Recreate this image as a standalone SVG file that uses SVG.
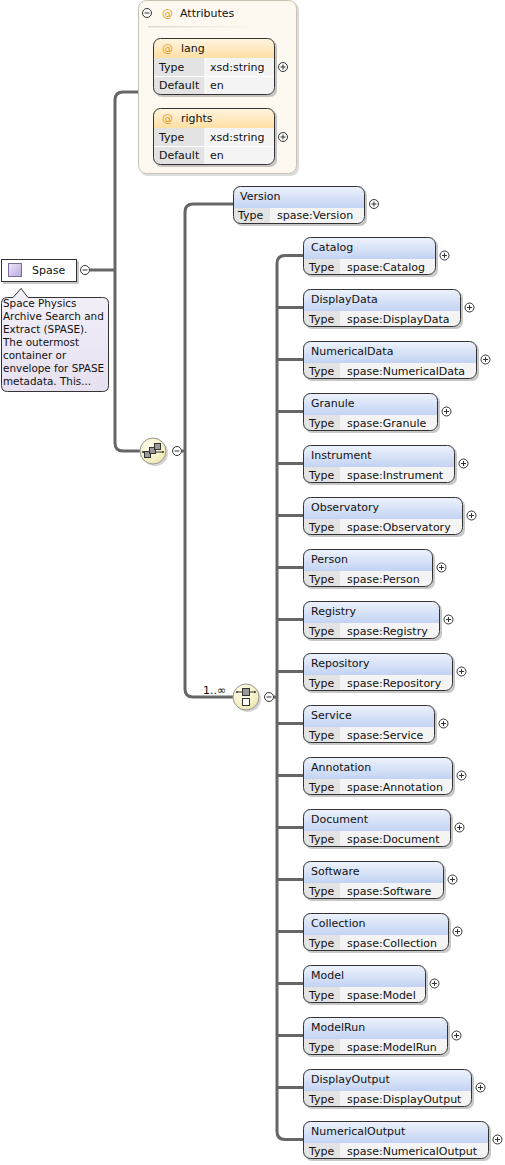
<svg xmlns="http://www.w3.org/2000/svg" width="505" height="1165" viewBox="0 0 505 1165">
<style>
text{font-family:"DejaVu Sans","Liberation Sans",sans-serif;font-size:11px;fill:#111}
.note{font-size:10.4px}
.ln{fill:none;stroke:#666;stroke-width:3}
.bd{fill:none;stroke:#333;stroke-width:1}
.sh{fill:#999;opacity:.55}
.hdr{fill:url(#gHdr)}
.ahdr{fill:url(#gAttr)}
.lab{fill:#e3e3e3}
.val{fill:#f4f4f4}
.ic{fill:#fff;stroke:#333;stroke-width:1}
.icl{stroke:#333;stroke-width:1}
.at{fill:#e69a1e}
</style>
<defs>
<linearGradient id="gHdr" x1="0" y1="0" x2="0" y2="1"><stop offset="0" stop-color="#eef3fc"/><stop offset="1" stop-color="#c3d3f3"/></linearGradient>
<linearGradient id="gAttr" x1="0" y1="0" x2="0" y2="1"><stop offset="0" stop-color="#fff5e2"/><stop offset="1" stop-color="#ffdfa4"/></linearGradient>
<linearGradient id="gSep" x1="0" y1="0" x2="1" y2="0"><stop offset="0" stop-color="#ddd8cc"/><stop offset="1" stop-color="#ddd8cc" stop-opacity="0"/></linearGradient>
<linearGradient id="gIcon" x1="0" y1="0" x2="1" y2="1"><stop offset="0" stop-color="#eee8f8"/><stop offset="1" stop-color="#b8a8e0"/></linearGradient>
<linearGradient id="gNote" x1="0" y1="0" x2="0" y2="1"><stop offset="0" stop-color="#f3f0f8"/><stop offset="1" stop-color="#e6e0f0"/></linearGradient>
<radialGradient id="gComp" cx="0.4" cy="0.35" r="0.7"><stop offset="0" stop-color="#fffef0"/><stop offset="1" stop-color="#efe8b0"/></radialGradient>
<g id="plus"><circle class="ic" cx="0" cy="0" r="4.5"/><path class="icl" d="M-2.5,0H2.5M0,-2.5V2.5"/></g>
<g id="minus"><circle class="ic" cx="0" cy="0" r="4.5"/><path class="icl" d="M-2.5,0H2.5"/></g>
</defs>

<g id="connectors">
<path class="ln" d="M90,270H115"/>
<path class="ln" d="M138,92H123Q115,92 115,100V443Q115,451 123,451H140"/>
<path class="ln" d="M182,451H185"/>
<path class="ln" d="M233,204H193Q185,204 185,212V689Q185,697 193,697H233"/>
<path class="ln" d="M274,697H277"/>
<path class="ln" d="M303,255.5H285Q277,255.5 277,263.5V1131.5Q277,1139.5 285,1139.5H303"/>
<path class="ln" d="M277,307.5H303M277,359.5H303M277,411.5H303M277,463.5H303M277,515.5H303M277,567.5H303M277,619.5H303M277,671.5H303M277,723.5H303M277,775.5H303M277,827.5H303M277,879.5H303M277,931.5H303M277,983.5H303M277,1035.5H303M277,1087.5H303"/>
</g>

<g id="spase">
<rect class="sh" x="3" y="261" width="76" height="23"/>
<rect x="1.5" y="259.5" width="75" height="22" fill="#fff" stroke="#333"/>
<rect x="8.5" y="263.5" width="13" height="13" fill="url(#gIcon)" stroke="#7a6aa0"/>
<text x="32" y="274">Spase</text>
<use href="#minus" x="85" y="270"/>
</g>

<g id="spase-doc">
<path d="M7.5,297.5H13L21,288.5L28,297.5H102.5Q108.5,297.5 108.5,303.5V385.5Q108.5,391.5 102.5,391.5H7.5Q1.5,391.5 1.5,385.5V303.5Q1.5,297.5 7.5,297.5Z" fill="url(#gNote)" stroke="#333"/>
<text class="note" x="3" y="307">Space Physics</text>
<text class="note" x="3" y="320">Archive Search and</text>
<text class="note" x="3" y="333">Extract (SPASE).</text>
<text class="note" x="3" y="346">The outermost</text>
<text class="note" x="3" y="359">container or</text>
<text class="note" x="3" y="372">envelope for SPASE</text>
<text class="note" x="3" y="385">metadata. This...</text>
</g>

<g id="attributes">
<rect x="140" y="2" width="159" height="174" rx="8" fill="#bbb" opacity=".5"/>
<rect x="138.5" y="0.5" width="158" height="173" rx="8" fill="#fdf9f0" stroke="#c9c1b1"/>
<use href="#minus" x="147" y="13"/>
<text x="162" y="17" class="at">@</text>
<text x="180" y="17">Attributes</text>
<rect x="148" y="26" width="110" height="1.5" fill="url(#gSep)"/>
</g>

<g id="attr-lang">
<rect class="sh" x="155" y="40" width="122" height="57" rx="7"/>
<rect x="153" y="38" width="122" height="57" rx="7" class="val"/>
<path class="ahdr" d="M153,58V45Q153,38 160,38H268Q275,38 275,45V58Z"/>
<path class="lab" d="M153,58H205V95H160Q153,95 153,88Z"/>
<path d="M153,76.5H275M205,58V95" stroke="#fff" stroke-width="1"/>
<rect x="153.5" y="38.5" width="121" height="56" rx="7" class="bd"/>
<text x="162" y="52" class="at">@</text>
<text x="181" y="52">lang</text>
<text x="159" y="71">Type</text>
<text x="210" y="71">xsd:string</text>
<text x="159" y="89">Default</text>
<text x="210" y="89">en</text>
<use href="#plus" x="283" y="67"/>
</g>

<g id="attr-rights">
<rect class="sh" x="155" y="110" width="122" height="57" rx="7"/>
<rect x="153" y="108" width="122" height="57" rx="7" class="val"/>
<path class="ahdr" d="M153,128V115Q153,108 160,108H268Q275,108 275,115V128Z"/>
<path class="lab" d="M153,128H205V165H160Q153,165 153,158Z"/>
<path d="M153,146.5H275M205,128V165" stroke="#fff" stroke-width="1"/>
<rect x="153.5" y="108.5" width="121" height="56" rx="7" class="bd"/>
<text x="162" y="122" class="at">@</text>
<text x="181" y="122">rights</text>
<text x="159" y="141">Type</text>
<text x="210" y="141">xsd:string</text>
<text x="159" y="159">Default</text>
<text x="210" y="159">en</text>
<use href="#plus" x="283" y="137"/>
</g>

<g id="sequence">
<circle cx="155" cy="453" r="13" fill="#aaa" opacity=".5"/>
<circle cx="153" cy="451" r="13" fill="url(#gComp)" stroke="#999"/>
<path d="M143,452H163" stroke="#333"/>
<circle cx="143" cy="452" r="1" fill="#333"/>
<circle cx="163" cy="452" r="1" fill="#333"/>
<rect x="144.5" y="451.5" width="6" height="6" fill="#999" stroke="#333"/>
<rect x="149.5" y="447.5" width="6" height="6" fill="#999" stroke="#333"/>
<rect x="154.5" y="443.5" width="6" height="6" fill="#999" stroke="#333"/>
<use href="#minus" x="177" y="451"/>
</g>

<g id="el-Version">
<rect class="sh" x="235" y="188" width="132" height="38" rx="7"/>
<rect x="233" y="186" width="132" height="38" rx="7" class="val"/>
<path class="hdr" d="M233,208V193Q233,186 240,186H358Q365,186 365,193V208Z"/>
<path class="lab" d="M233,208H270V224H240Q233,224 233,217Z"/>
<rect x="233.5" y="186.5" width="131" height="37" rx="7" class="bd"/>
<text x="240" y="200">Version</text>
<text x="238" y="219">Type</text>
<text x="277" y="219">spase:Version</text>
<use href="#plus" x="374" y="204"/>
</g>

<g id="choice">
<text x="203" y="694">1..∞</text>
<circle cx="248" cy="699" r="13" fill="#aaa" opacity=".5"/>
<circle cx="246" cy="697" r="13" fill="url(#gComp)" stroke="#999"/>
<path d="M237,692H255" stroke="#333"/>
<circle cx="237" cy="692" r="1" fill="#333"/>
<circle cx="255" cy="692" r="1" fill="#333"/>
<rect x="242.5" y="688.5" width="7" height="7" fill="#999" stroke="#333"/>
<rect x="242.5" y="698.5" width="7" height="7" fill="#fff" stroke="#333"/>
<use href="#minus" x="269" y="697"/>
</g>

<g id="el-Catalog">
<rect class="sh" x="305" y="239" width="133" height="38" rx="7"/>
<rect x="303" y="237" width="133" height="38" rx="7" class="val"/>
<path class="hdr" d="M303,259V244Q303,237 310,237H429Q436,237 436,244V259Z"/>
<path class="lab" d="M303,259H340V275H310Q303,275 303,268Z"/>
<rect x="303.5" y="237.5" width="132" height="37" rx="7" class="bd"/>
<text x="311" y="251">Catalog</text>
<text x="309" y="271">Type</text>
<text x="347" y="271">spase:Catalog</text>
<use href="#plus" x="444.5" y="255.5"/>
</g>

<g id="el-DisplayData">
<rect class="sh" x="305" y="291" width="158" height="38" rx="7"/>
<rect x="303" y="289" width="158" height="38" rx="7" class="val"/>
<path class="hdr" d="M303,311V296Q303,289 310,289H454Q461,289 461,296V311Z"/>
<path class="lab" d="M303,311H340V327H310Q303,327 303,320Z"/>
<rect x="303.5" y="289.5" width="157" height="37" rx="7" class="bd"/>
<text x="311" y="303">DisplayData</text>
<text x="309" y="323">Type</text>
<text x="347" y="323">spase:DisplayData</text>
<use href="#plus" x="469.5" y="307.5"/>
</g>

<g id="el-NumericalData">
<rect class="sh" x="305" y="343" width="174" height="38" rx="7"/>
<rect x="303" y="341" width="174" height="38" rx="7" class="val"/>
<path class="hdr" d="M303,363V348Q303,341 310,341H470Q477,341 477,348V363Z"/>
<path class="lab" d="M303,363H340V379H310Q303,379 303,372Z"/>
<rect x="303.5" y="341.5" width="173" height="37" rx="7" class="bd"/>
<text x="311" y="355">NumericalData</text>
<text x="309" y="375">Type</text>
<text x="347" y="375">spase:NumericalData</text>
<use href="#plus" x="485.5" y="359.5"/>
</g>

<g id="el-Granule">
<rect class="sh" x="305" y="395" width="135" height="38" rx="7"/>
<rect x="303" y="393" width="135" height="38" rx="7" class="val"/>
<path class="hdr" d="M303,415V400Q303,393 310,393H431Q438,393 438,400V415Z"/>
<path class="lab" d="M303,415H340V431H310Q303,431 303,424Z"/>
<rect x="303.5" y="393.5" width="134" height="37" rx="7" class="bd"/>
<text x="311" y="407">Granule</text>
<text x="309" y="427">Type</text>
<text x="347" y="427">spase:Granule</text>
<use href="#plus" x="446.5" y="411.5"/>
</g>

<g id="el-Instrument">
<rect class="sh" x="305" y="447" width="152" height="38" rx="7"/>
<rect x="303" y="445" width="152" height="38" rx="7" class="val"/>
<path class="hdr" d="M303,467V452Q303,445 310,445H448Q455,445 455,452V467Z"/>
<path class="lab" d="M303,467H340V483H310Q303,483 303,476Z"/>
<rect x="303.5" y="445.5" width="151" height="37" rx="7" class="bd"/>
<text x="311" y="459">Instrument</text>
<text x="309" y="479">Type</text>
<text x="347" y="479">spase:Instrument</text>
<use href="#plus" x="463.5" y="463.5"/>
</g>

<g id="el-Observatory">
<rect class="sh" x="305" y="499" width="160" height="38" rx="7"/>
<rect x="303" y="497" width="160" height="38" rx="7" class="val"/>
<path class="hdr" d="M303,519V504Q303,497 310,497H456Q463,497 463,504V519Z"/>
<path class="lab" d="M303,519H340V535H310Q303,535 303,528Z"/>
<rect x="303.5" y="497.5" width="159" height="37" rx="7" class="bd"/>
<text x="311" y="511">Observatory</text>
<text x="309" y="531">Type</text>
<text x="347" y="531">spase:Observatory</text>
<use href="#plus" x="471.5" y="515.5"/>
</g>

<g id="el-Person">
<rect class="sh" x="305" y="551" width="130" height="38" rx="7"/>
<rect x="303" y="549" width="130" height="38" rx="7" class="val"/>
<path class="hdr" d="M303,571V556Q303,549 310,549H426Q433,549 433,556V571Z"/>
<path class="lab" d="M303,571H340V587H310Q303,587 303,580Z"/>
<rect x="303.5" y="549.5" width="129" height="37" rx="7" class="bd"/>
<text x="311" y="563">Person</text>
<text x="309" y="583">Type</text>
<text x="347" y="583">spase:Person</text>
<use href="#plus" x="441.5" y="567.5"/>
</g>

<g id="el-Registry">
<rect class="sh" x="305" y="603" width="137" height="38" rx="7"/>
<rect x="303" y="601" width="137" height="38" rx="7" class="val"/>
<path class="hdr" d="M303,623V608Q303,601 310,601H433Q440,601 440,608V623Z"/>
<path class="lab" d="M303,623H340V639H310Q303,639 303,632Z"/>
<rect x="303.5" y="601.5" width="136" height="37" rx="7" class="bd"/>
<text x="311" y="615">Registry</text>
<text x="309" y="635">Type</text>
<text x="347" y="635">spase:Registry</text>
<use href="#plus" x="448.5" y="619.5"/>
</g>

<g id="el-Repository">
<rect class="sh" x="305" y="655" width="150" height="38" rx="7"/>
<rect x="303" y="653" width="150" height="38" rx="7" class="val"/>
<path class="hdr" d="M303,675V660Q303,653 310,653H446Q453,653 453,660V675Z"/>
<path class="lab" d="M303,675H340V691H310Q303,691 303,684Z"/>
<rect x="303.5" y="653.5" width="149" height="37" rx="7" class="bd"/>
<text x="311" y="667">Repository</text>
<text x="309" y="687">Type</text>
<text x="347" y="687">spase:Repository</text>
<use href="#plus" x="461.5" y="671.5"/>
</g>

<g id="el-Service">
<rect class="sh" x="305" y="707" width="132" height="38" rx="7"/>
<rect x="303" y="705" width="132" height="38" rx="7" class="val"/>
<path class="hdr" d="M303,727V712Q303,705 310,705H428Q435,705 435,712V727Z"/>
<path class="lab" d="M303,727H340V743H310Q303,743 303,736Z"/>
<rect x="303.5" y="705.5" width="131" height="37" rx="7" class="bd"/>
<text x="311" y="719">Service</text>
<text x="309" y="739">Type</text>
<text x="347" y="739">spase:Service</text>
<use href="#plus" x="443.5" y="723.5"/>
</g>

<g id="el-Annotation">
<rect class="sh" x="305" y="759" width="150" height="38" rx="7"/>
<rect x="303" y="757" width="150" height="38" rx="7" class="val"/>
<path class="hdr" d="M303,779V764Q303,757 310,757H446Q453,757 453,764V779Z"/>
<path class="lab" d="M303,779H340V795H310Q303,795 303,788Z"/>
<rect x="303.5" y="757.5" width="149" height="37" rx="7" class="bd"/>
<text x="311" y="771">Annotation</text>
<text x="309" y="791">Type</text>
<text x="347" y="791">spase:Annotation</text>
<use href="#plus" x="461.5" y="775.5"/>
</g>

<g id="el-Document">
<rect class="sh" x="305" y="811" width="148" height="38" rx="7"/>
<rect x="303" y="809" width="148" height="38" rx="7" class="val"/>
<path class="hdr" d="M303,831V816Q303,809 310,809H444Q451,809 451,816V831Z"/>
<path class="lab" d="M303,831H340V847H310Q303,847 303,840Z"/>
<rect x="303.5" y="809.5" width="147" height="37" rx="7" class="bd"/>
<text x="311" y="823">Document</text>
<text x="309" y="843">Type</text>
<text x="347" y="843">spase:Document</text>
<use href="#plus" x="459.5" y="827.5"/>
</g>

<g id="el-Software">
<rect class="sh" x="305" y="863" width="141" height="38" rx="7"/>
<rect x="303" y="861" width="141" height="38" rx="7" class="val"/>
<path class="hdr" d="M303,883V868Q303,861 310,861H437Q444,861 444,868V883Z"/>
<path class="lab" d="M303,883H340V899H310Q303,899 303,892Z"/>
<rect x="303.5" y="861.5" width="140" height="37" rx="7" class="bd"/>
<text x="311" y="875">Software</text>
<text x="309" y="895">Type</text>
<text x="347" y="895">spase:Software</text>
<use href="#plus" x="452.5" y="879.5"/>
</g>

<g id="el-Collection">
<rect class="sh" x="305" y="915" width="146" height="38" rx="7"/>
<rect x="303" y="913" width="146" height="38" rx="7" class="val"/>
<path class="hdr" d="M303,935V920Q303,913 310,913H442Q449,913 449,920V935Z"/>
<path class="lab" d="M303,935H340V951H310Q303,951 303,944Z"/>
<rect x="303.5" y="913.5" width="145" height="37" rx="7" class="bd"/>
<text x="311" y="927">Collection</text>
<text x="309" y="947">Type</text>
<text x="347" y="947">spase:Collection</text>
<use href="#plus" x="457.5" y="931.5"/>
</g>

<g id="el-Model">
<rect class="sh" x="305" y="967" width="123" height="38" rx="7"/>
<rect x="303" y="965" width="123" height="38" rx="7" class="val"/>
<path class="hdr" d="M303,987V972Q303,965 310,965H419Q426,965 426,972V987Z"/>
<path class="lab" d="M303,987H340V1003H310Q303,1003 303,996Z"/>
<rect x="303.5" y="965.5" width="122" height="37" rx="7" class="bd"/>
<text x="311" y="979">Model</text>
<text x="309" y="999">Type</text>
<text x="347" y="999">spase:Model</text>
<use href="#plus" x="434.5" y="983.5"/>
</g>

<g id="el-ModelRun">
<rect class="sh" x="305" y="1019" width="145" height="38" rx="7"/>
<rect x="303" y="1017" width="145" height="38" rx="7" class="val"/>
<path class="hdr" d="M303,1039V1024Q303,1017 310,1017H441Q448,1017 448,1024V1039Z"/>
<path class="lab" d="M303,1039H340V1055H310Q303,1055 303,1048Z"/>
<rect x="303.5" y="1017.5" width="144" height="37" rx="7" class="bd"/>
<text x="311" y="1031">ModelRun</text>
<text x="309" y="1051">Type</text>
<text x="347" y="1051">spase:ModelRun</text>
<use href="#plus" x="456.5" y="1035.5"/>
</g>

<g id="el-DisplayOutput">
<rect class="sh" x="305" y="1071" width="169" height="38" rx="7"/>
<rect x="303" y="1069" width="169" height="38" rx="7" class="val"/>
<path class="hdr" d="M303,1091V1076Q303,1069 310,1069H465Q472,1069 472,1076V1091Z"/>
<path class="lab" d="M303,1091H340V1107H310Q303,1107 303,1100Z"/>
<rect x="303.5" y="1069.5" width="168" height="37" rx="7" class="bd"/>
<text x="311" y="1083">DisplayOutput</text>
<text x="309" y="1103">Type</text>
<text x="347" y="1103">spase:DisplayOutput</text>
<use href="#plus" x="480.5" y="1087.5"/>
</g>

<g id="el-NumericalOutput">
<rect class="sh" x="305" y="1123" width="186" height="38" rx="7"/>
<rect x="303" y="1121" width="186" height="38" rx="7" class="val"/>
<path class="hdr" d="M303,1143V1128Q303,1121 310,1121H482Q489,1121 489,1128V1143Z"/>
<path class="lab" d="M303,1143H340V1159H310Q303,1159 303,1152Z"/>
<rect x="303.5" y="1121.5" width="185" height="37" rx="7" class="bd"/>
<text x="311" y="1135">NumericalOutput</text>
<text x="309" y="1155">Type</text>
<text x="347" y="1155">spase:NumericalOutput</text>
<use href="#plus" x="497.5" y="1139.5"/>
</g>
</svg>
